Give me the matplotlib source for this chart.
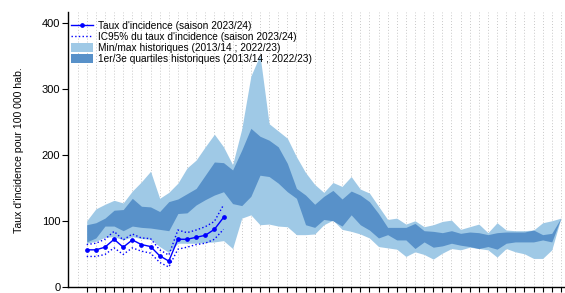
import numpy as np
import matplotlib
matplotlib.use("Agg")
import matplotlib.pyplot as plt

plt.rcParams['font.family'] = ['Liberation Sans', 'DejaVu Sans']

# Weekly values, 53 weeks of the season
hist_max = [101, 119, 126, 132, 128, 146, 160, 176, 135, 144,
            158, 181, 193, 213, 232, 213, 186, 240, 320, 352,
            248, 237, 226, 198, 174, 156, 144, 159, 153, 168,
            149, 143, 123, 103, 105, 96, 101, 92, 95, 100,
            102, 88, 92, 96, 83, 98, 87, 86, 86, 87,
            98, 101, 105]
hist_q3 = [95, 98, 105, 117, 118, 135, 123, 122, 115, 130,
           134, 142, 150, 170, 190, 189, 178, 208, 241, 229,
           223, 213, 188, 150, 140, 126, 138, 147, 134, 146,
           140, 130, 112, 91, 91, 91, 97, 86, 85, 83,
           86, 82, 84, 83, 80, 83, 84, 84, 84, 87,
           80, 82, 105]
hist_q1 = [69, 75, 93, 93, 86, 93, 91, 90, 88, 86,
           112, 113, 125, 133, 140, 145, 127, 124, 138, 170,
           168, 158, 145, 135, 95, 91, 103, 101, 93, 110,
           95, 87, 75, 80, 72, 72, 59, 69, 61, 63,
           67, 64, 62, 59, 62, 58, 67, 69, 69, 69,
           72, 69, 105]
hist_min = [67, 70, 76, 77, 72, 77, 74, 73, 62, 53,
            67, 67, 67, 68, 69, 71, 59, 105, 110, 95,
            96, 93, 92, 80, 80, 81, 95, 102, 88, 85,
            81, 75, 62, 60, 58, 47, 54, 50, 43, 52,
            59, 57, 61, 59, 57, 46, 59, 54, 51, 44,
            44, 57, 105]

# Current season (first 16 weeks)
taux = [57, 57, 61, 73, 61, 72, 65, 62, 48, 40, 73, 73, 76, 79, 88, 106]
ic_hi = [65, 67, 73, 85, 72, 81, 75, 74, 57, 49, 87, 83, 87, 92, 100, 125]
ic_lo = [47, 47, 50, 60, 50, 60, 55, 52, 38, 31, 58, 61, 65, 67, 73, 88]

weeks = np.arange(len(hist_max))
cur_weeks = weeks[:len(taux)]

light = '#9fc9e6'
dark = '#5891c9'

fig = plt.figure(figsize=(5.65, 2.93), dpi=100)
ax = fig.add_axes([0.1204, 0.0188, 0.8796, 0.940])

for w in range(-1, len(weeks)):
    ax.axvline(w, color='#c8c8c8', linestyle=(0, (1, 2)), linewidth=0.7, zorder=0)

ax.fill_between(weeks, hist_min, hist_max, color=light, linewidth=0,
                label='Min/max historiques (2013/14 ; 2022/23)', zorder=1)
ax.fill_between(weeks, hist_q1, hist_q3, color=dark, linewidth=0,
                label='1er/3e quartiles historiques (2013/14 ; 2022/23)', zorder=2)
ax.plot(cur_weeks, taux, color='#0000ff', linewidth=1.0, marker='o', markersize=2.4,
        label="Taux d'incidence (saison 2023/24)", zorder=4)
ax.plot(cur_weeks, ic_hi, color='#0000ff', linestyle=':', linewidth=1.0,
        label="IC95% du taux d'incidence (saison 2023/24)", zorder=3)
ax.plot(cur_weeks, ic_lo, color='#0000ff', linestyle=':', linewidth=1.0, zorder=3)

ax.set_xlim(-2.05, 52.45)
ax.set_ylim(0, 417)
ax.set_yticks([0, 100, 200, 300, 400])
ax.set_xticks(weeks)
ax.set_xticklabels([])
ax.tick_params(axis='y', labelsize=8, length=4, width=0.8, pad=1.5)
ax.tick_params(axis='x', length=3.5, width=0.8)
ax.spines['top'].set_visible(False)
ax.spines['right'].set_visible(False)
ax.spines['left'].set_linewidth(1.0)
ax.spines['bottom'].set_linewidth(1.0)
ax.set_ylabel("Taux d'incidence pour 100 000 hab.", fontsize=7.6, labelpad=13)

handles, labels = ax.get_legend_handles_labels()
order = [2, 3, 0, 1]
ax.legend([handles[i] for i in order], [labels[i] for i in order],
          loc='upper left', bbox_to_anchor=(0.0, 0.98), frameon=False,
          fontsize=7.3, handlelength=2.2, handleheight=1.0, handletextpad=0.5,
          labelspacing=0.1, borderaxespad=0.2, borderpad=0.1)

fig.savefig('out.png', dpi=100)
